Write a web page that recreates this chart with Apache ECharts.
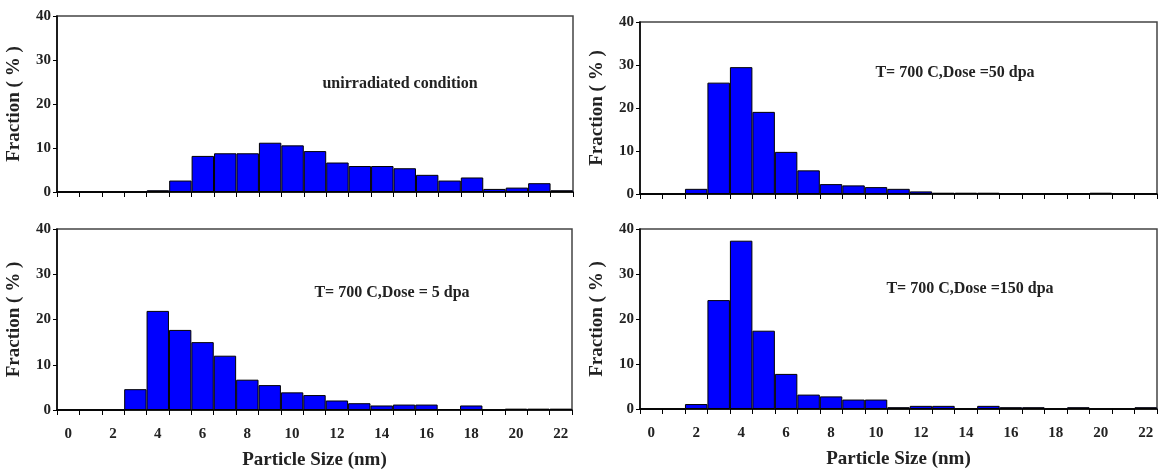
<!DOCTYPE html>
<html>
<head>
<meta charset="utf-8">
<script src="https://cdn.jsdelivr.net/npm/echarts@6/dist/echarts.min.js"></script>
<style>
    html, body { margin: 0; padding: 0; background: #fff; }
    #chart { width: 1167px; height: 473px; }
</style>
</head>
<body>
<div id="chart"></div>
<script>
    // particle size bins (nm), one bar per nm
    var sizes = [];
    for (var s = 0; s <= 22; s++) sizes.push(String(s));

    var unirradiated = [0, 0, 0, 0, 0.4, 2.6, 8.2, 8.8, 8.8, 11.2, 10.6, 9.3, 6.7, 5.9, 5.9, 5.4, 3.9, 2.6, 3.3, 0.7, 1.0, 2.0, 0.4];
    var dose50 = [0, 0, 1.2, 25.9, 29.5, 19.1, 9.8, 5.5, 2.3, 2.0, 1.6, 1.2, 0.6, 0.3, 0.3, 0.3, 0, 0, 0, 0, 0.3, 0, 0];
    var dose5 = [0, 0, 0, 4.6, 21.9, 17.7, 15.0, 12.0, 6.7, 5.5, 3.9, 3.3, 2.1, 1.5, 1.0, 1.2, 1.2, 0.2, 1.0, 0, 0.3, 0.3, 0.3];
    var dose150 = [0, 0, 1.1, 24.2, 37.4, 17.4, 7.8, 3.2, 2.8, 2.1, 2.1, 0.4, 0.7, 0.7, 0, 0.7, 0.4, 0.4, 0, 0.4, 0, 0, 0.4];

    var panels = [
        { data: unirradiated, note: 'unirradiated condition', grid: { left: 57, top: 16, width: 516, height: 176 }, noteAt: [400, 84], bottom: false },
        { data: dose50, note: 'T= 700 C,Dose =50 dpa', grid: { left: 640, top: 22, width: 517, height: 172 }, noteAt: [955, 73], bottom: false },
        { data: dose5, note: 'T= 700 C,Dose = 5 dpa', grid: { left: 57, top: 229, width: 515, height: 181 }, noteAt: [392, 293], bottom: true },
        { data: dose150, note: 'T= 700 C,Dose =150 dpa', grid: { left: 640, top: 229, width: 517, height: 180 }, noteAt: [970, 289], bottom: true }
    ];

    var font = 'Liberation Serif';
    var ink = '#222';

    var grids = [], xAxes = [], yAxes = [], series = [], notes = [];
    panels.forEach(function (p, i) {
        grids.push({
            left: p.grid.left, top: p.grid.top, width: p.grid.width, height: p.grid.height,
            show: true, borderColor: '#444', borderWidth: 1.5, backgroundColor: 'transparent'
        });
        xAxes.push({
            type: 'category',
            gridIndex: i,
            data: sizes,
            name: p.bottom ? 'Particle Size (nm)' : '',
            nameLocation: 'middle',
            nameGap: 41,
            nameTextStyle: { fontFamily: font, fontWeight: 'bold', fontSize: 19, color: ink },
            axisLine: { lineStyle: { color: '#000', width: 1.5 } },
            axisTick: { show: true, interval: 0, length: 5, lineStyle: { color: '#000' } },
            axisLabel: {
                show: p.bottom, interval: 1, margin: 17,
                fontFamily: font, fontWeight: 'bold', fontSize: 15, color: ink
            },
            splitLine: { show: false }
        });
        yAxes.push({
            type: 'value',
            gridIndex: i,
            min: 0, max: 40, interval: 10,
            name: 'Fraction ( % )',
            nameLocation: 'middle',
            nameRotate: 90,
            nameGap: 33,
            nameTextStyle: { fontFamily: font, fontWeight: 'bold', fontSize: 19, color: ink },
            axisLine: { show: true, lineStyle: { color: '#000', width: 1.5 } },
            axisTick: { show: true, length: 4, lineStyle: { color: '#000' } },
            axisLabel: { margin: 6, fontFamily: font, fontWeight: 'bold', fontSize: 15, color: ink },
            splitLine: { show: false }
        });
        series.push({
            type: 'bar',
            xAxisIndex: i,
            yAxisIndex: i,
            data: p.data,
            barCategoryGap: '0%',
            itemStyle: { color: '#0000ff', borderColor: '#000', borderWidth: 1 },
            silent: true
        });
        notes.push({
            type: 'text',
            x: p.noteAt[0], y: p.noteAt[1],
            style: {
                text: p.note, fill: ink, align: 'center', verticalAlign: 'middle',
                font: 'bold 16px "Liberation Serif"'
            }
        });
    });

    var chart = echarts.init(document.getElementById('chart'));
    chart.setOption({
        animation: false,
        backgroundColor: '#fff',
        grid: grids,
        xAxis: xAxes,
        yAxis: yAxes,
        series: series,
        graphic: notes
    });
</script>
</body>
</html>
